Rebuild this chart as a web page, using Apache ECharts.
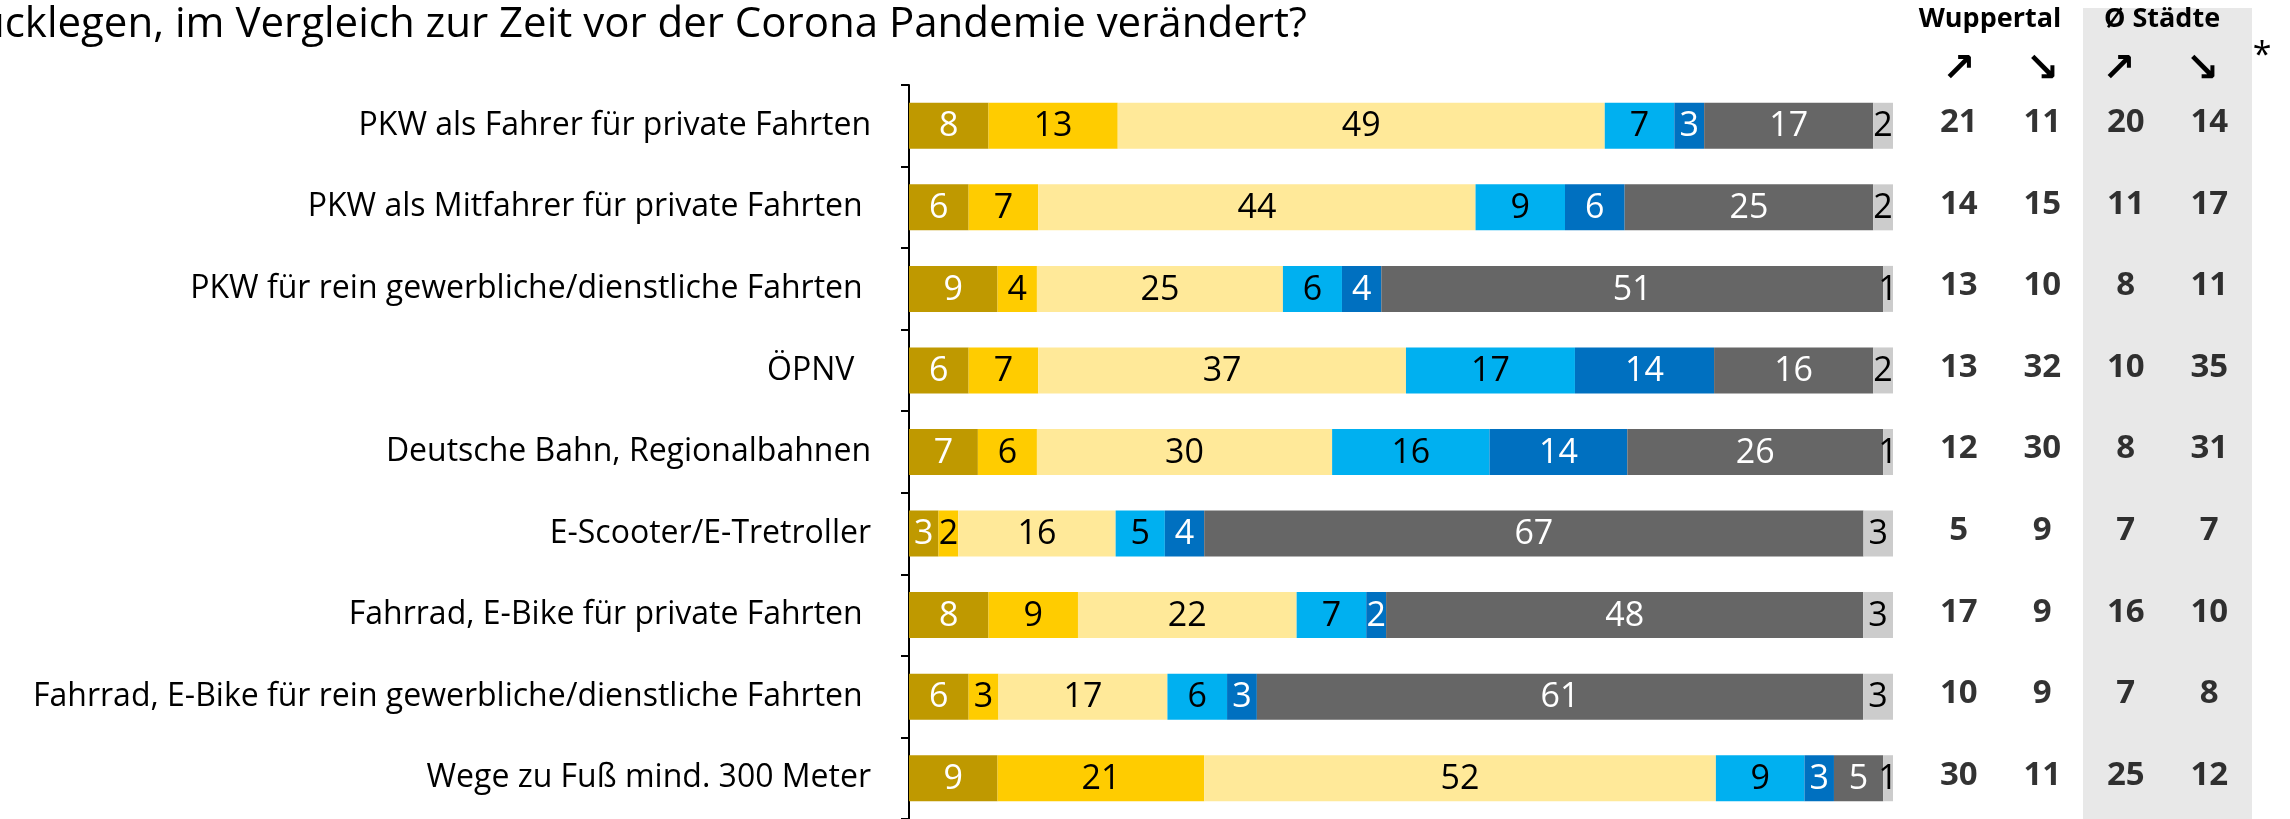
<!DOCTYPE html>
<html>
<head>
<meta charset="utf-8">
<script src="https://cdn.jsdelivr.net/npm/echarts@6/dist/echarts.min.js"></script>
<style>
  html, body { margin: 0; padding: 0; background: #fff; }
  #main { width: 2290px; height: 819px; }
</style>
</head>
<body>
<div id="main"></div>
<script>
var categories = [
  "PKW als Fahrer für private Fahrten",
  "PKW als Mitfahrer für private Fahrten ",
  "PKW für rein gewerbliche/dienstliche Fahrten ",
  "ÖPNV  ",
  "Deutsche Bahn, Regionalbahnen",
  "E-Scooter/E-Tretroller",
  "Fahrrad, E-Bike für private Fahrten ",
  "Fahrrad, E-Bike für rein gewerbliche/dienstliche Fahrten ",
  "Wege zu Fuß mind. 300 Meter"
];

// shares in percent, per answer
var starkZu    = [8, 6, 9, 6, 7, 3, 8, 6, 9];
var etwasZu    = [13, 7, 4, 7, 6, 2, 9, 3, 21];
var gleich     = [49, 44, 25, 37, 30, 16, 22, 17, 52];
var etwasAb    = [7, 9, 6, 17, 16, 5, 7, 6, 9];
var starkAb    = [3, 6, 4, 14, 14, 4, 2, 3, 3];
var nutzeNicht = [17, 25, 51, 16, 26, 67, 48, 61, 5];
var weissNicht = [2, 2, 1, 2, 1, 3, 3, 3, 1];

// right hand table
var columns  = ["↗", "↘", "↗ ", "↘ "];
var wupUp    = [21, 14, 13, 13, 12, 5, 17, 10, 30];
var wupDown  = [11, 15, 10, 32, 30, 9, 9, 9, 11];
var avgUp    = [20, 11, 8, 10, 8, 7, 16, 7, 25];
var avgDown  = [14, 17, 11, 35, 31, 7, 10, 8, 12];

var FONT = "Open Sans";
var segs = [
  { name: "stark zugenommen", data: starkZu,    color: "#BF9900", text: "#fff" },
  { name: "etwas zugenommen", data: etwasZu,    color: "#FFCC00", text: "#000" },
  { name: "gleich geblieben", data: gleich,     color: "#FFE999", text: "#000" },
  { name: "etwas abgenommen", data: etwasAb,    color: "#00B0F0", text: "#000" },
  { name: "stark abgenommen", data: starkAb,    color: "#0070C0", text: "#fff" },
  { name: "nutze ich nicht",  data: nutzeNicht, color: "#666666", text: "#fff" },
  { name: "weiß nicht",       data: weissNicht, color: "#CCCCCC", text: "#000" }
];

// 100% stacked: scale each row to its total
var rowSum = categories.map(function (c, i) {
  return segs.reduce(function (s, g) { return s + g.data[i]; }, 0);
});

var series = segs.map(function (g) {
  return {
    name: g.name,
    type: "bar",
    stack: "total",
    barWidth: 46,
    xAxisIndex: 0,
    yAxisIndex: 0,
    itemStyle: { color: g.color },
    label: {
      show: true,
      position: "inside",
      color: g.text,
      fontFamily: FONT,
      fontSize: 34,
      offset: [0, 1],
      formatter: function (p) { return g.data[p.dataIndex]; }
    },
    data: g.data.map(function (v, i) { return v * 100 / rowSum[i]; })
  };
});

var tableCols = [wupUp, wupDown, avgUp, avgDown];
var tableData = [];
tableCols.forEach(function (col, c) {
  col.forEach(function (v, r) {
    tableData.push([columns[c], categories[r], v]);
  });
});

series.push({
  type: "scatter",
  xAxisIndex: 1,
  yAxisIndex: 1,
  symbolSize: 1,
  itemStyle: { color: "rgba(0,0,0,0)" },
  label: {
    show: true,
    position: "inside",
    color: "#000",
    fontFamily: FONT,
    fontWeight: "bold",
    fontSize: 33,
    offset: [0, -3],
    formatter: function (p) { return p.value[2]; }
  },
  data: tableData
});

var chart = echarts.init(document.getElementById("main"));
chart.setOption({
  animation: false,
  backgroundColor: "#fff",
  grid: [
    { left: 909, top: 85, width: 984, height: 736 },
    { left: 1917, top: 85, width: 334, height: 736 }
  ],
  xAxis: [
    {
      gridIndex: 0, type: "value", min: 0, max: 100,
      show: false
    },
    {
      gridIndex: 1, type: "category", data: columns, position: "top",
      axisLine: { show: false }, axisTick: { show: false },
      axisLabel: {
        margin: 14, verticalAlign: "middle",
        fontFamily: "DejaVu Sans", fontWeight: "bold", fontSize: 40, color: "#000"
      }
    }
  ],
  yAxis: [
    {
      gridIndex: 0, type: "category", data: categories, inverse: true,
      axisLine: { show: true, lineStyle: { color: "#000", width: 2 } },
      axisTick: { show: true, length: 8, lineStyle: { color: "#000", width: 2 } },
      axisLabel: { margin: 38, fontFamily: FONT, fontSize: 32, color: "#000" }
    },
    {
      gridIndex: 1, type: "category", data: categories, inverse: true,
      show: false
    }
  ],
  graphic: [
    {
      type: "rect", z: -10,
      shape: { x: 2083, y: 8, width: 169, height: 811 },
      style: { fill: "#E8E8E8" }
    },
    {
      type: "text",
      style: {
        text: "ücklegen, im Vergleich zur Zeit vor der Corona Pandemie verändert?",
        x: 1307, y: 25, align: "right", verticalAlign: "middle",
        fontFamily: FONT, fontSize: 42, fill: "#000"
      }
    },
    {
      type: "text",
      style: {
        text: "Wuppertal", x: 1990, y: 19, align: "center", verticalAlign: "middle",
        fontFamily: FONT, fontWeight: "bold", fontSize: 27, fill: "#000"
      }
    },
    {
      type: "text",
      style: {
        text: "Ø Städte", x: 2162, y: 19, align: "center", verticalAlign: "middle",
        fontFamily: FONT, fontWeight: "bold", fontSize: 27, fill: "#000"
      }
    },
    {
      type: "text",
      style: {
        text: "*", x: 2262, y: 56, align: "center", verticalAlign: "middle",
        fontFamily: FONT, fontSize: 34, fill: "#000"
      }
    }
  ],
  series: series
});
</script>
</body>
</html>
